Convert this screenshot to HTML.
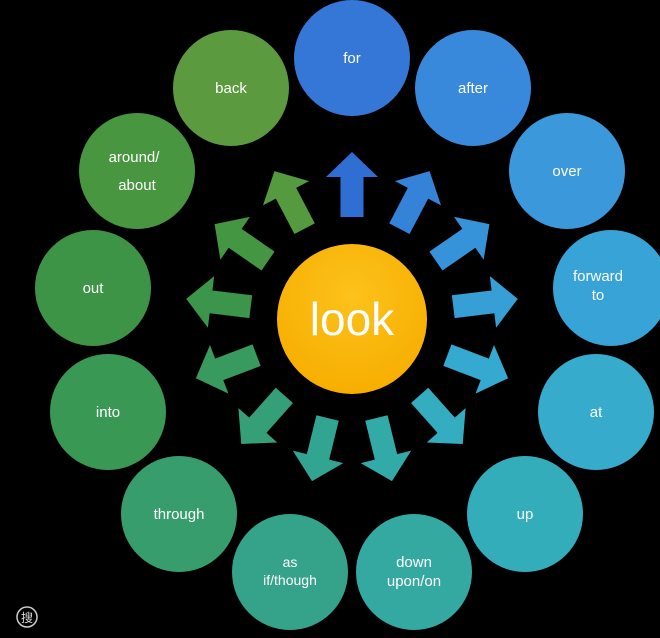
<!DOCTYPE html>
<html><head><meta charset="utf-8"><style>
html,body{margin:0;padding:0;background:#000;width:660px;height:638px;overflow:hidden}
text{font-family:"Liberation Sans","Noto Sans CJK SC",sans-serif;fill:#fff}
</style></head><body>
<svg width="660" height="638" viewBox="0 0 660 638" xmlns="http://www.w3.org/2000/svg">
<defs>
<radialGradient id="lk" cx="50%" cy="35%" r="65%"><stop offset="0" stop-color="#fcc21c"/><stop offset="1" stop-color="#f7ae00"/></radialGradient>
<path id="ar" d="M340.5,217 L340.5,177 L326,177 L352,152 L378,177 L363.5,177 L363.5,217 Z"/>
</defs>
<!-- arrows -->
<use href="#ar" fill="#2f6fd3" transform="rotate(0 352 319)"/>
<use href="#ar" fill="#3583d8" transform="rotate(27.69 352 319)"/>
<use href="#ar" fill="#3793d9" transform="rotate(55.38 352 319)"/>
<use href="#ar" fill="#36a0d6" transform="rotate(83.08 352 319)"/>
<use href="#ar" fill="#35a9cf" transform="rotate(110.77 352 319)"/>
<use href="#ar" fill="#33adbf" transform="rotate(138.46 352 319)"/>
<use href="#ar" fill="#32aaa8" transform="rotate(166.15 352 319)"/>
<use href="#ar" fill="#32a592" transform="rotate(193.85 352 319)"/>
<use href="#ar" fill="#359f78" transform="rotate(221.54 352 319)"/>
<use href="#ar" fill="#389a5e" transform="rotate(249.23 352 319)"/>
<use href="#ar" fill="#3b964b" transform="rotate(276.92 352 319)"/>
<use href="#ar" fill="#449642" transform="rotate(304.62 352 319)"/>
<use href="#ar" fill="#559a3f" transform="rotate(332.31 352 319)"/>
<!-- center -->
<circle cx="352" cy="319" r="75" fill="url(#lk)"/>
<text x="352" y="335" font-size="46" text-anchor="middle">look</text>
<!-- outer circles -->
<g font-size="15" text-anchor="middle">
<circle cx="352" cy="58" r="58" fill="#3577d6"/><text x="352" y="63">for</text>
<circle cx="473" cy="88" r="58" fill="#3889dc"/><text x="473" y="93">after</text>
<circle cx="567" cy="171" r="58" fill="#3a98db"/><text x="567" y="176">over</text>
<circle cx="611" cy="288" r="58" fill="#38a3d6"/><text x="598" y="281">forward</text><text x="598" y="300">to</text>
<circle cx="596" cy="412" r="58" fill="#36abcc"/><text x="596" y="417">at</text>
<circle cx="525" cy="514" r="58" fill="#34adbb"/><text x="525" y="519">up</text>
<circle cx="414" cy="572" r="58" fill="#33a9a2"/><text x="414" y="567">down</text><text x="414" y="586">upon/on</text>
<circle cx="290" cy="572" r="58" fill="#34a38a"/><text x="290" y="567" font-size="14">as</text><text x="290" y="585" font-size="14">if/though</text>
<circle cx="179" cy="514" r="58" fill="#379d6d"/><text x="179" y="519">through</text>
<circle cx="108" cy="412" r="58" fill="#3a9855"/><text x="108" y="417">into</text>
<circle cx="93" cy="288" r="58" fill="#3d9446"/><text x="93" y="293">out</text>
<circle cx="137" cy="171" r="58" fill="#489640"/><text x="134" y="162">around/</text><text x="137" y="190">about</text>
<circle cx="231" cy="88" r="58" fill="#5b9a3e"/><text x="231" y="93">back</text>
</g>
<!-- small icon -->
<circle cx="27" cy="617" r="10" fill="none" stroke="#ccc" stroke-width="1.5"/>
<text x="27" y="622" font-size="12" text-anchor="middle" style="fill:#ddd">搜</text>
</svg>
</body></html>
